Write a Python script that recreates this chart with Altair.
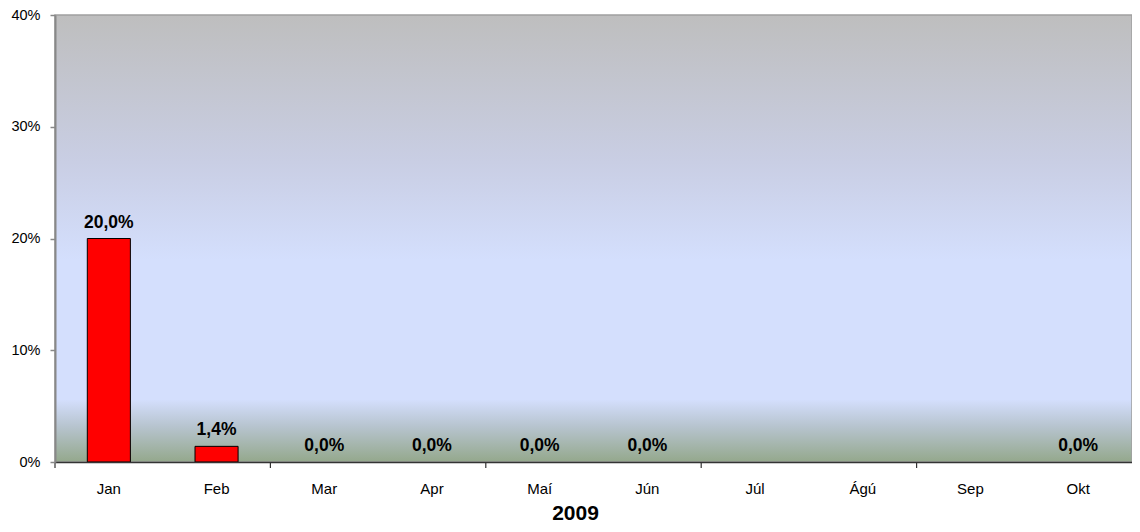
import altair as alt
import pandas as pd

months = ["Jan", "Feb", "Mar", "Apr", "Maí", "Jún", "Júl", "Ágú", "Sep", "Okt"]
values = [0.200, 0.014, 0.0, 0.0, 0.0, 0.0, None, None, None, 0.0]
tick_months = ["Jan", "Mar", "Maí", "Júl", "Sep"]
y_ticks = [0, 0.1, 0.2, 0.3, 0.4]
x_title = "2009"

W, H = 1077, 447
FONT = "Liberation Sans"

df = pd.DataFrame({"month": months, "value": values})

xscale = alt.Scale(domain=months, paddingInner=0, paddingOuter=0)
yscale = alt.Scale(domain=[0, 0.4], nice=False)

bg = alt.Chart(pd.DataFrame({"k": [0]})).mark_rect(
    fill=alt.LinearGradient(
        gradient="linear",
        stops=[
            alt.GradientStop(color="#bebebe", offset=0),
            alt.GradientStop(color="#c9cee4", offset=0.33),
            alt.GradientStop(color="#d4dffd", offset=0.55),
            alt.GradientStop(color="#d4dffd", offset=0.86),
            alt.GradientStop(color="#b7c4cf", offset=0.92),
            alt.GradientStop(color="#94a88c", offset=1),
        ],
        x1=0, x2=0, y1=0, y2=1,
    ),
    stroke="#a0a0a0",
    strokeWidth=1.5,
).encode(x=alt.value(0), x2=alt.value(W), y=alt.value(0), y2=alt.value(H))

base = alt.Chart(df)

bars = base.mark_bar(
    color="#ff0000", stroke="#000000", strokeWidth=1,
    width=alt.RelativeBandSize(0.4),
).encode(
    x=alt.X("month:N", sort=months, scale=xscale,
            axis=alt.Axis(title=x_title, labelAngle=0, ticks=False,
                          domainColor="#333333", domainWidth=1.5,
                          labelFont=FONT, labelFontSize=15, labelColor="#000000",
                          labelPadding=26, labelBaseline="middle",
                          titleFont=FONT, titleFontSize=21, titleFontWeight="bold",
                          titleColor="#000000", titleX=520, titleY=57,
                          titleBaseline="alphabetic", titleAlign="center",
                          zindex=2)),
    y=alt.Y("value:Q", scale=yscale,
            axis=alt.Axis(title=None, values=y_ticks, format=".0%", grid=False,
                          domainColor="#888888", domainWidth=2,
                          tickColor="#888888", tickSize=5, tickWidth=1.5,
                          labelFont=FONT, labelFontSize=14.5, labelColor="#000000",
                          labelPadding=10, zindex=2)),
).transform_filter("isValid(datum.value) && datum.value > 0")

labels = base.transform_filter("isValid(datum.value)").transform_calculate(
    label="replace(format(datum.value, '.1%'), '.', ',')"
).mark_text(
    font=FONT, fontSize=17.5, fontWeight="bold", color="#000000",
    baseline="alphabetic", dy=-11,
).encode(
    x=alt.X("month:N", sort=months, scale=xscale),
    y=alt.Y("value:Q", scale=yscale),
    text="label:N",
)

ticks_df = pd.DataFrame({"month": tick_months})
xticks = alt.Chart(ticks_df).mark_rule(color="#333333", strokeWidth=1.2).encode(
    x=alt.X("month:N", sort=months, scale=xscale, bandPosition=0),
    y=alt.value(H),
    y2=alt.value(H + 6),
)

chart = alt.layer(bg, bars, labels, xticks).properties(
    width=W, height=H,
    autosize=alt.AutoSizeParams(type="none"),
    padding={"left": 47, "top": 7, "right": 0, "bottom": 62},
).configure_view(stroke=None).configure(background="#ffffff")

chart.save("out.html", embed_options={"renderer": "svg", "actions": False})
